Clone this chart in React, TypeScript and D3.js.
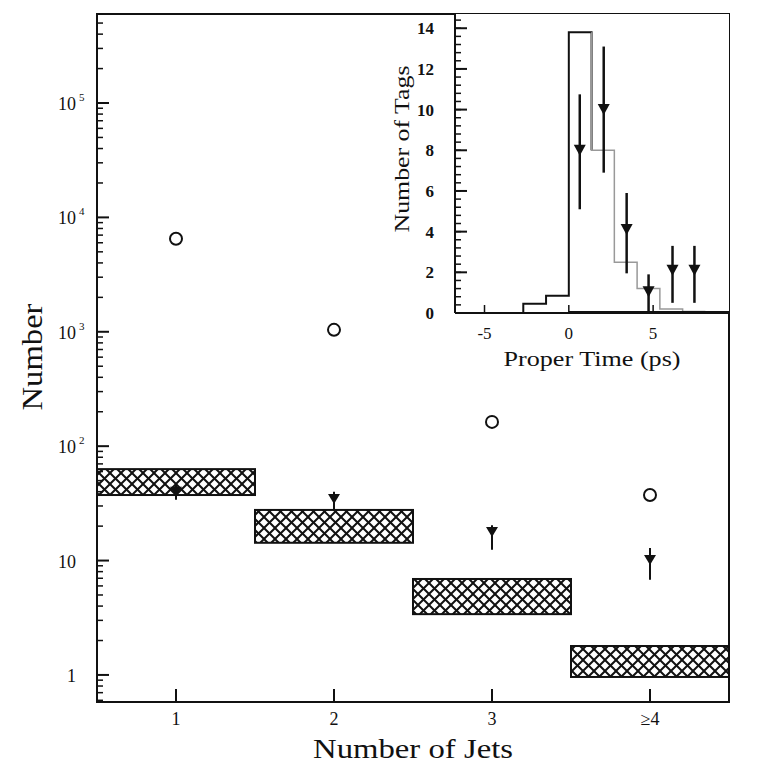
import React from "react";
import * as d3 from "d3";

const categories = ["1", "2", "3", "≥4"];
const catPos = [1, 2, 3, 4];
const openCircles = [6500, 1040, 163, 37.4];
const taggedValues = [40, 34.5, 17.8, 10.1];
const taggedLow = [34, 28, 12.4, 6.8];
const taggedHigh = [46, 40, 20.4, 12.9];
const bandLow = [37.4, 14.3, 3.4, 0.96];
const bandHigh = [63, 27.7, 6.9, 1.79];
const yTickDecades = [1, 10, 100, 1000, 10000, 100000];

const histEdges = [-2.7, -1.35, 0, 1.35, 2.7, 4.05, 5.4, 6.75, 8.1];
const histValues = [0.45, 0.85, 13.8, 8.0, 2.5, 1.2, 0.2, 0.07];
const insetT = [0.65, 2.07, 3.43, 4.73, 6.15, 7.45];
const insetN = [8, 10, 4.1, 1.05, 2.1, 2.1];
const insetLo = [5.1, 6.9, 1.95, 0, 0.5, 0.5];
const insetHi = [10.75, 13.1, 5.9, 1.9, 3.3, 3.3];
const insetYTicks = [0, 2, 4, 6, 8, 10, 12, 14];
const insetXTicks = [-5, 0, 5];

const FONT = "'Liberation Serif', 'Times New Roman', serif";

export default function App() {
  const x = d3.scaleLinear().domain([0.5, 4.5]).range([97, 729]);
  const y = d3.scaleLog().domain([0.58, 6e5]).range([702, 14]);
  const ix = d3.scaleLinear().domain([-6.75, 9.5]).range([455, 729]);
  const iy = d3.scaleLinear().domain([0, 14.7]).range([313, 14]);

  const minor: number[] = [];
  for (let e = -1; e <= 5; e++) {
    for (let m = 1; m <= 9; m++) {
      const v = m * Math.pow(10, e);
      if (v >= 0.58 && v <= 6e5 && m !== 1) minor.push(v);
    }
  }
  const insetMinor: number[] = [];
  for (let v = 0; v <= 14.6; v += 0.4) insetMinor.push(+v.toFixed(2));

  const tri = (cx: number, cy: number, w: number, h: number) =>
    `M${cx - w / 2},${cy - h / 2}L${cx + w / 2},${cy - h / 2}L${cx},${cy + h / 2}Z`;

  const blackPts: [number, number][] = [];
  const grayPts: [number, number][] = [];
  blackPts.push([ix(-6.75), iy(0)]);
  blackPts.push([ix(histEdges[0]), iy(0)]);
  for (let i = 0; i < histValues.length; i++) {
    const pts = histEdges[i] < 1.35 ? blackPts : grayPts;
    pts.push([ix(histEdges[i]), iy(i === 0 ? 0 : histValues[i - 1])]);
    pts.push([ix(histEdges[i]), iy(histValues[i])]);
    pts.push([ix(histEdges[i + 1]), iy(histValues[i])]);
  }
  blackPts.push([ix(1.35), iy(histValues[3])]);
  const line = d3.line();

  const P = 11;
  return (
    <svg
      width={779}
      height={778}
      style={{ position: "absolute", left: 0, top: 0, background: "#fff" }}
      fontFamily={FONT}
    >
      <defs>
        <pattern id="hatch" width={P} height={P} patternUnits="userSpaceOnUse">
          <rect width={P} height={P} fill="#fff" />
          <path d={`M-2,2L2,-2M0,${P}L${P},0M${P - 2},${P + 2}L${P + 2},${P - 2}`} stroke="#111" strokeWidth={2} />
          <path d={`M-2,${P - 2}L2,${P + 2}M0,0L${P},${P}M${P - 2},-2L${P + 2},2`} stroke="#111" strokeWidth={2} />
        </pattern>
      </defs>

      {catPos.map((c, i) => (
        <rect
          key={"b" + i}
          x={x(c - 0.5)}
          y={y(bandHigh[i])}
          width={x(c + 0.5) - x(c - 0.5)}
          height={y(bandLow[i]) - y(bandHigh[i])}
          fill="url(#hatch)"
          stroke="#111"
          strokeWidth={2}
        />
      ))}

      {catPos.map((c, i) => (
        <circle key={"c" + i} cx={x(c)} cy={y(openCircles[i])} r={6} fill="none" stroke="#111" strokeWidth={2} />
      ))}

      {catPos.map((c, i) => (
        <g key={"t" + i}>
          <line x1={x(c)} x2={x(c)} y1={y(taggedHigh[i])} y2={y(taggedLow[i])} stroke="#111" strokeWidth={2} />
          <path d={tri(x(c), y(taggedValues[i]), 12, 10)} fill="#111" />
        </g>
      ))}

      <rect x={97} y={14} width={632} height={688} fill="none" stroke="#111" strokeWidth={2} />

      {yTickDecades.map((v) => (
        <line key={"yt" + v} x1={97} x2={109} y1={y(v)} y2={y(v)} stroke="#111" strokeWidth={2} />
      ))}
      {minor.map((v) => (
        <line key={"ym" + v} x1={97} x2={103} y1={y(v)} y2={y(v)} stroke="#111" strokeWidth={1.5} />
      ))}
      {yTickDecades.map((v) => {
        const e = Math.round(Math.log10(v));
        if (e <= 1)
          return (
            <text key={"yl" + v} x={76} y={y(v) + 7} fontSize={18} textAnchor="end" fill="#111">
              {e === 0 ? "1" : "10"}
            </text>
          );
        return (
          <g key={"yl" + v}>
            <text x={76} y={y(v) + 7} fontSize={18} textAnchor="end" fill="#111">
              10
            </text>
            <text x={79} y={y(v) - 2} fontSize={11} fill="#111">
              {e}
            </text>
          </g>
        );
      })}

      {catPos.map((c, i) => (
        <g key={"xt" + i}>
          <line x1={x(c)} x2={x(c)} y1={702} y2={689} stroke="#111" strokeWidth={2} />
          <text x={x(c)} y={725} fontSize={18} textAnchor="middle" fill="#111">
            {categories[i]}
          </text>
        </g>
      ))}

      <text x={413} y={758} fontSize={27} textAnchor="middle" fill="#111" textLength={200} lengthAdjust="spacingAndGlyphs">
        Number of Jets
      </text>
      <text
        transform="translate(42,357) rotate(-90)"
        fontSize={30}
        textAnchor="middle"
        fill="#111"
        textLength={107}
        lengthAdjust="spacingAndGlyphs"
      >
        Number
      </text>

      {/* inset */}
      <rect x={455} y={14} width={274} height={299} fill="#fff" />
      <path d={line(blackPts) || ""} fill="none" stroke="#111" strokeWidth={2} />
      <path d={line(grayPts) || ""} fill="none" stroke="#999" strokeWidth={1.5} />
      <line x1={ix(0)} x2={729} y1={iy(0) - 1} y2={iy(0) - 1} stroke="#111" strokeWidth={2} />

      {insetT.map((t, i) => (
        <g key={"it" + i}>
          <line x1={ix(t)} x2={ix(t)} y1={iy(insetHi[i])} y2={iy(insetLo[i])} stroke="#111" strokeWidth={2.5} />
          <path d={tri(ix(t), iy(insetN[i]), 12, 11)} fill="#111" />
        </g>
      ))}

      <line x1={455} x2={455} y1={14} y2={313} stroke="#111" strokeWidth={2} />
      <line x1={455} x2={729} y1={313} y2={313} stroke="#111" strokeWidth={2} />
      {insetMinor.map((v) => (
        <line key={"im" + v} x1={455} x2={461} y1={iy(v)} y2={iy(v)} stroke="#111" strokeWidth={1.5} />
      ))}
      {insetYTicks.map((v) => (
        <g key={"iy" + v}>
          <line x1={455} x2={467} y1={iy(v)} y2={iy(v)} stroke="#111" strokeWidth={2} />
          <text x={434} y={iy(v) + 6} fontSize={17} textAnchor="end" fill="#111" fontWeight="bold">
            {v}
          </text>
        </g>
      ))}
      {insetXTicks.map((v) => (
        <g key={"ix" + v}>
          <line x1={ix(v)} x2={ix(v)} y1={313} y2={305} stroke="#111" strokeWidth={1.5} />
          <text x={ix(v)} y={339} fontSize={17} textAnchor="middle" fill="#111">
            {v === -5 ? "-5" : v}
          </text>
        </g>
      ))}
      <text x={592} y={366} fontSize={21} textAnchor="middle" fill="#111" textLength={177} lengthAdjust="spacingAndGlyphs">
        Proper Time (ps)
      </text>
      <text
        transform="translate(409,149) rotate(-90)"
        fontSize={21}
        textAnchor="middle"
        fill="#111"
        textLength={167}
        lengthAdjust="spacingAndGlyphs"
      >
        Number of Tags
      </text>
    </svg>
  );
}
